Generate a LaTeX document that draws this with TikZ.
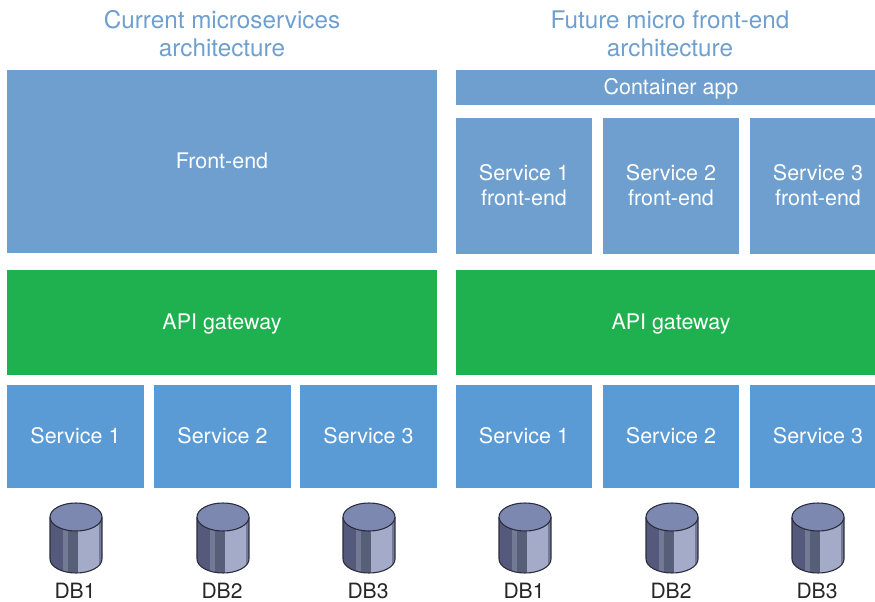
\documentclass[tikz,border=0pt]{standalone}
\usepackage{fontspec}
\setmainfont{TeX Gyre Heros}
\definecolor{frontblue}{HTML}{6F9FCF}
\definecolor{serviceblue}{HTML}{5B9BD5}
\definecolor{gatewaygreen}{HTML}{1FB14F}
\definecolor{dbtop}{HTML}{7D88B0}
\definecolor{dbdark}{HTML}{555A7C}
\definecolor{dbmid}{HTML}{737A96}
\definecolor{dbband}{HTML}{565E78}
\definecolor{dblight}{HTML}{A3ABC9}
\definecolor{dbline}{HTML}{2A2C3C}
\def\px{0.75pt}
\tikzset{
  boxtext/.style={font=\fontsize{16.1pt}{18.75pt}\selectfont,text=white,align=center,inner sep=0pt,text depth=1.4pt},
  oneline/.style={text height=11.3pt},
  frontbox/.style={boxtext,fill=frontblue},
  gatewaybox/.style={boxtext,oneline,fill=gatewaygreen,minimum width=430*\px,minimum height=105*\px},
  servicebox/.style={boxtext,fill=serviceblue,minimum height=103*\px},
  titletext/.style={font=\fontsize{18.2pt}{21pt}\selectfont,text=frontblue,align=center,inner sep=0pt},
  dblabel/.style={font=\fontsize{15.8pt}{19pt}\selectfont,text=black!85,inner sep=0pt},
  pics/database/.style={code={
    \begin{scope}
      \clip (-26,-15) -- (-26,27) arc[start angle=180,end angle=0,x radius=26,y radius=14]
        -- (26,-15) -- cycle;
      \fill[dbdark]  (-26,-16) rectangle (-13,42);
      \fill[dbmid]   (-13,-16) rectangle (-8,42);
      \fill[dbband]  (-8,-16)  rectangle (2,42);
      \fill[dblight] (2,-16)   rectangle (23,42);
      \fill[dbmid]   (23,-16)  rectangle (26,42);
    \end{scope}
    \draw[dbline,line width=0.8pt] (-26,-15) -- (-26,27)
      arc[start angle=180,end angle=0,x radius=26,y radius=14] -- (26,-15);
    \draw[dbline,fill=dbtop,line width=0.8pt] (0,-15) ellipse[x radius=26,y radius=14];
  }}
}
\begin{document}
\begin{tikzpicture}[x=0.75pt,y=-0.75pt]
  \useasboundingbox (0,0) rectangle (875,602);
  \clip (0,0) rectangle (875,602);

  % Titles
  \node[titletext] (titleleft) at (222,34) {Current microservices\\architecture};
  \node[titletext] (titleright) at (670,34) {Future micro front-end\\architecture};

  % Front-end side, current
  \node[frontbox,minimum width=430*\px,minimum height=183*\px] (frontend) at (222,161.5) {Front-end};

  % Front-end side, future
  \node[frontbox,oneline,minimum width=430*\px,minimum height=35*\px] (container) at (671,87.5) {Container app};
  \node[frontbox,minimum width=136*\px,minimum height=136*\px] (front1) at (524,186) {Service 1\\front-end};
  \node[frontbox,minimum width=136*\px,minimum height=136*\px] (front2) at (671,186) {Service 2\\front-end};
  \node[frontbox,minimum width=136*\px,minimum height=136*\px] (front3) at (818,186) {Service 3\\front-end};

  % Gateways
  \node[gatewaybox] (gatewayleft) at (222,322.5) {API gateway};
  \node[gatewaybox] (gatewayright) at (671,322.5) {API gateway};

  % Services of both sides
  \node[servicebox,minimum width=137*\px] (serviceA1) at (75.5,436.5) {Service 1};
  \node[servicebox,minimum width=137*\px] (serviceA2) at (222.5,436.5) {Service 2};
  \node[servicebox,minimum width=137*\px] (serviceA3) at (368.5,436.5) {Service 3};
  \node[servicebox,minimum width=136*\px] (serviceB1) at (524,436.5) {Service 1};
  \node[servicebox,minimum width=136*\px] (serviceB2) at (671,436.5) {Service 2};
  \node[servicebox,minimum width=136*\px] (serviceB3) at (818,436.5) {Service 3};

  % Databases
  \foreach \dbx/\dbnum/\dbname in {75/1/A1,222/2/A2,368/3/A3,524/1/B1,671/2/B2,817/3/B3} {
    \pic at (\dbx+1,532) {database};
    \node[dblabel] (db\dbname) at (\dbx,591) {DB\dbnum};
  }
\end{tikzpicture}
\end{document}
